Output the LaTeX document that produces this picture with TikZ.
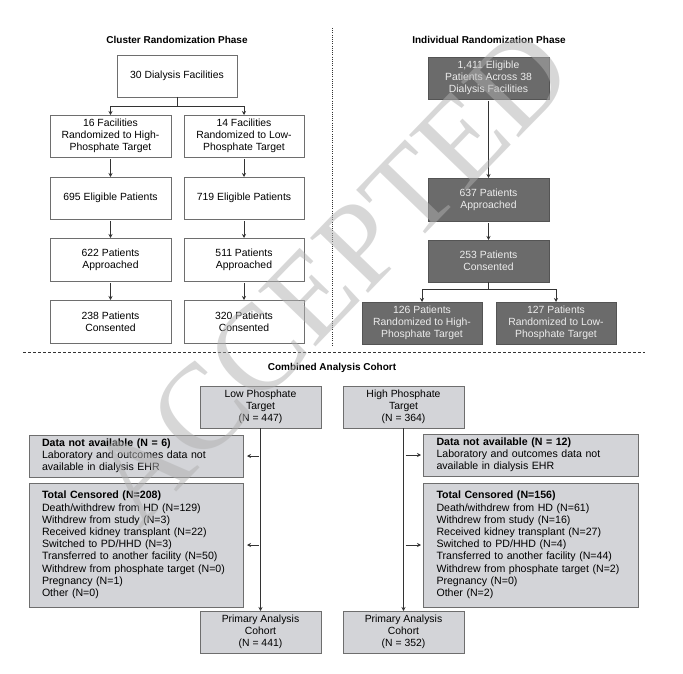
\documentclass[tikz,border=0pt]{standalone}
\usepackage{fontspec}
\setmainfont{Liberation Sans}
\newfontfamily\wmfont{Liberation Serif}
\usetikzlibrary{arrows.meta}
\definecolor{boxline}{HTML}{6E6E6E}
\definecolor{darkfill}{HTML}{6B6B6B}
\definecolor{darkline}{HTML}{545454}
\definecolor{lightfill}{HTML}{D3D4D8}
\definecolor{arrowcol}{HTML}{333333}
\definecolor{wmcol}{HTML}{B0B0B0}
\begin{document}
\begin{tikzpicture}[x=1pt,y=-1pt,
  every node/.style={inner sep=0pt, outer sep=0pt},
  basebox/.style={draw=boxline, line width=0.9pt, align=center, font=\fontsize{10.4}{12.2}\selectfont},
  whitebox/.style={basebox, fill=white, minimum width=120pt, minimum height=42pt},
  darkbox/.style={basebox, fill=darkfill, draw=darkline, text=white!93!black, minimum width=121pt, minimum height=42pt},
  lightbox/.style={basebox, fill=lightfill, minimum width=121pt, minimum height=42pt},
  notebox/.style={basebox, fill=lightfill, minimum width=214pt, text width=188pt, align=left, font=\fontsize{10.6}{12.2}\selectfont},
  arrow/.style={draw=arrowcol, line width=0.8pt, -{Stealth[length=4pt,width=4pt]}},
  plainline/.style={draw=arrowcol, line width=0.8pt},
  phase/.style={font=\bfseries\fontsize{10}{12}\selectfont},
]
\useasboundingbox (0,0) rectangle (683,674);

% separators
\draw[arrowcol, line width=0.8pt, dash pattern=on 0.9pt off 1.3pt] (332,28) -- (332,346);
\draw[arrowcol, line width=0.8pt, dash pattern=on 3pt off 2pt] (23,352) -- (645,352);

% titles
\node[phase] (t1) at (177,40) {Cluster Randomization Phase};
\node[phase] (t2) at (489,40) {Individual Randomization Phase};
\node[phase] (t3) at (332,368) {Combined Analysis Cohort};

% cluster phase
\node[whitebox] (b30) at (177,76) {30 Dialysis Facilities};
\node[whitebox, minimum width=121pt] (h16) at (110.5,136) {16 Facilities\\Randomized to High-\\Phosphate Target};
\node[whitebox] (l14) at (244,136) {14 Facilities\\Randomized to Low-\\Phosphate Target};
\node[whitebox, minimum width=121pt] (e695) at (110.5,198) {695 Eligible Patients};
\node[whitebox] (e719) at (244,198) {719 Eligible Patients};
\node[whitebox, minimum width=121pt, minimum height=43pt] (a622) at (110.5,259.5) {622 Patients\\Approached};
\node[whitebox, minimum height=43pt] (a511) at (244,259.5) {511 Patients\\Approached};
\node[whitebox, minimum width=121pt, minimum height=43pt] (c238) at (110.5,321.5) {238 Patients\\Consented};
\node[whitebox, minimum height=43pt] (c320) at (244,321.5) {320 Patients\\Consented};

\coordinate (sp1) at (177,106);
\draw[plainline] (b30.south) -- (sp1);
\draw[arrow] (sp1) -| (h16.north);
\draw[arrow] (sp1) -| (l14.north);
\draw[arrow, shorten <=2pt] (h16) -- (e695);
\draw[arrow, shorten <=2pt] (l14) -- (e719);
\draw[arrow, shorten <=2pt] (e695) -- (a622);
\draw[arrow, shorten <=2pt] (e719) -- (a511);
\draw[arrow, shorten <=2pt] (a622) -- (c238);
\draw[arrow, shorten <=2pt] (a511) -- (c320);

% individual phase
\node[darkbox] (i1411) at (488.5,78) {1,411 Eligible\\Patients Across 38\\Dialysis Facilities};
\node[darkbox, minimum height=43pt] (p637) at (488.5,199.5) {637 Patients\\Approached};
\node[darkbox] (s253) at (488.5,261) {253 Patients\\Consented};
\node[darkbox, minimum width=120pt] (r126) at (422,323) {126 Patients\\Randomized to High-\\Phosphate Target};
\node[darkbox, minimum width=120pt] (r127) at (556,323) {127 Patients\\Randomized to Low-\\Phosphate Target};

\draw[arrow, shorten <=2pt] (i1411) -- (p637);
\draw[arrow, shorten <=2pt] (p637) -- (s253);
\coordinate (sp2) at (488.5,289);
\draw[plainline] (s253.south) -- (sp2);
\draw[arrow] (sp2) -| (r126.north);
\draw[arrow] (sp2) -| (r127.north);

% combined cohort
\node[lightbox] (low) at (260.5,407) {Low Phosphate\\Target\\(N = 447)};
\node[lightbox] (high) at (403.5,407) {High Phosphate\\Target\\(N = 364)};
\node[notebox, minimum height=42pt] (dnaL) at (136,456) {\textbf{Data not available (N = 6)}\\Laboratory and outcomes data not\\available in dialysis EHR};
\node[notebox, minimum width=215pt, minimum height=42pt] (dnaR) at (530.5,455) {\textbf{Data not available (N = 12)}\\Laboratory and outcomes data not\\available in dialysis EHR};
\node[notebox, minimum height=124pt] (tcL) at (136,545) {\textbf{Total Censored (N=208)}\\Death/withdrew from HD (N=129)\\Withdrew from study (N=3)\\Received kidney transplant (N=22)\\Switched to PD/HHD (N=3)\\Transferred to another facility (N=50)\\Withdrew from phosphate target (N=0)\\Pregnancy (N=1)\\Other (N=0)};
\node[notebox, minimum width=215pt, minimum height=124pt] (tcR) at (530.5,545) {\textbf{Total Censored (N=156)}\\Death/withdrew from HD (N=61)\\Withdrew from study (N=16)\\Received kidney transplant (N=27)\\Switched to PD/HHD (N=4)\\Transferred to another facility (N=44)\\Withdrew from phosphate target (N=2)\\Pregnancy (N=0)\\Other (N=2)};
\node[lightbox] (primL) at (260.5,632) {Primary Analysis\\Cohort\\(N = 441)};
\node[lightbox] (primR) at (403.5,632) {Primary Analysis\\Cohort\\(N = 352)};

\draw[arrow] (low) -- (primL);
\draw[arrow] (high) -- (primR);
\coordinate (jL1) at (low.south |- dnaL.east);
\coordinate (jL2) at (low.south |- tcL.east);
\coordinate (jR1) at (high.south |- dnaR.west);
\coordinate (jR2) at (high.south |- tcR.west);
\draw[arrow, shorten <=2pt, shorten >=4pt] (jL1) -- (dnaL.east);
\draw[arrow, shorten <=2pt, shorten >=4pt] (jL2) -- (tcL.east);
\draw[arrow, shorten <=2pt, shorten >=2pt] (jR1) -- (dnaR.west);
\draw[arrow, shorten <=2pt, shorten >=2pt] (jR2) -- (tcR.west);

% watermark
\node[rotate=46, text=wmcol, text opacity=0.5, font=\wmfont\fontsize{122}{122}\selectfont] (wm) at (330,276) {ACCEPTED};
\end{tikzpicture}
\end{document}
